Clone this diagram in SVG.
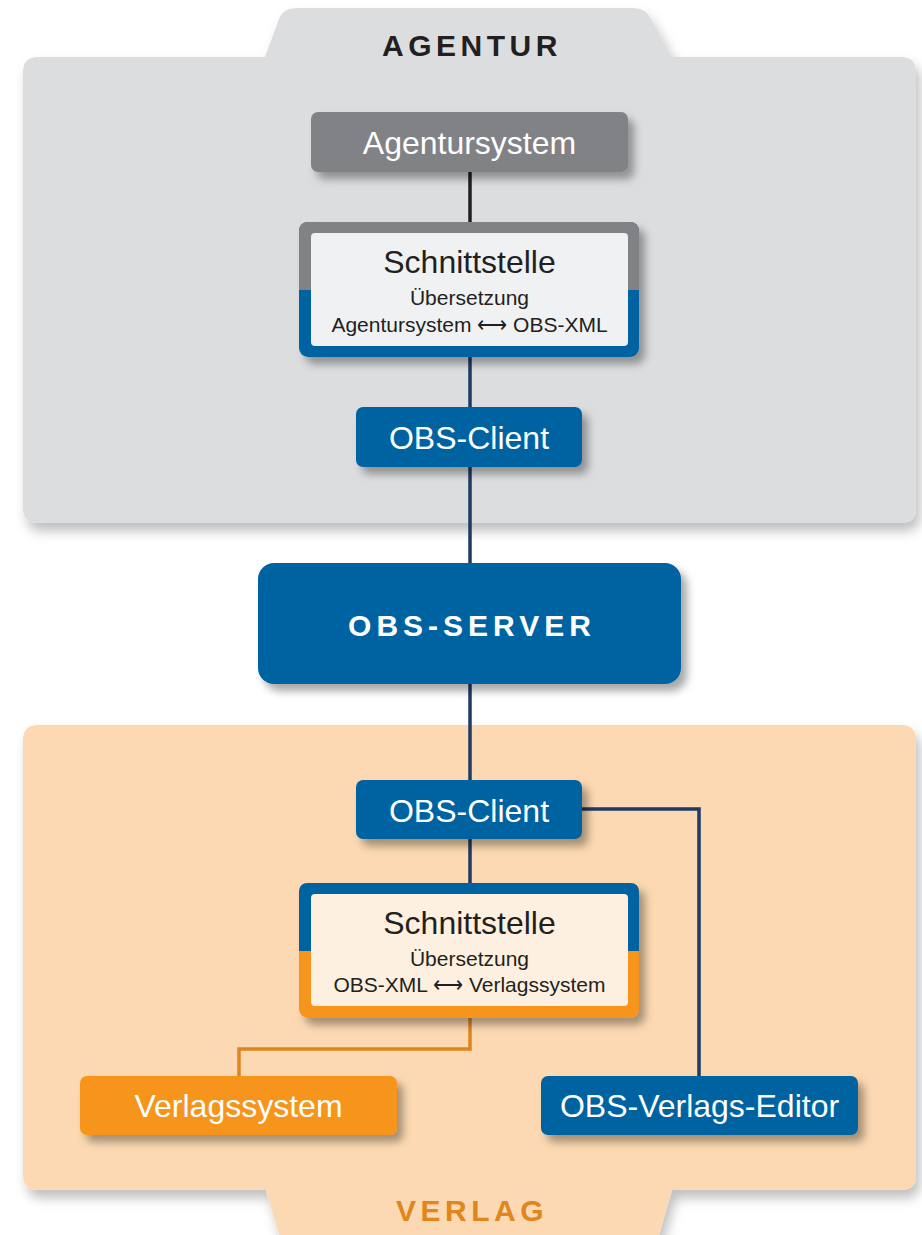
<svg xmlns="http://www.w3.org/2000/svg" width="922" height="1235" viewBox="0 0 922 1235">
<defs>
<filter id="sh" x="-20%" y="-20%" width="150%" height="160%">
<feDropShadow dx="6" dy="7" stdDeviation="4" flood-color="#000" flood-opacity="0.35"/>
</filter>
<filter id="psh" x="-10%" y="-10%" width="120%" height="130%">
<feDropShadow dx="4" dy="8" stdDeviation="6" flood-color="#000" flood-opacity="0.25"/>
</filter>
<style>
.t{font-family:"Liberation Sans",Arial,Helvetica,sans-serif;text-anchor:middle}
.big{font-size:32px;fill:#fff}
.dark{fill:#231f20}
.hd{font-weight:bold;font-size:30px}
.sub{font-size:21px;fill:#231f20}
.blue{fill:#0063a1}
.gray{fill:#808285}
.orange{fill:#f7941d}
.ln{fill:none;stroke-width:3.5}
</style>
</defs>

<g id="agentur-panel">
<path filter="url(#psh)" fill="#dcdddf" d="M38 57 H265 L279 19 Q283 8 297 8 H633 Q646 8 651 19 L672 57 H901 Q916 57 916 72 V508 Q916 523 901 523 H38 Q23 523 23 508 V72 Q23 57 38 57 Z"/>
<text class="t hd dark" x="472" y="56" letter-spacing="4.5">AGENTUR</text>
</g>

<g id="verlag-panel">
<path filter="url(#psh)" fill="#fcd9b2" d="M38 725 H901 Q916 725 916 740 V1175 Q916 1190 901 1190 H672 L656 1245 H282 L266 1190 H38 Q23 1190 23 1175 V740 Q23 725 38 725 Z"/>
<text class="t hd" fill="#e0861d" x="472" y="1221" letter-spacing="4.5">VERLAG</text>
</g>

<g id="connectors">
<line class="ln" stroke="#231f20" x1="470" y1="172" x2="470" y2="222"/>
<line class="ln" stroke="#1d3b63" x1="470" y1="357" x2="470" y2="407"/>
<line class="ln" stroke="#1d3b63" x1="470" y1="467" x2="470" y2="563"/>
<line class="ln" stroke="#1d3b63" x1="470" y1="684" x2="470" y2="780"/>
<line class="ln" stroke="#1d3b63" x1="470" y1="839" x2="470" y2="883"/>
<polyline class="ln" stroke="#1d3b63" points="582,809 699,809 699,1076"/>
<polyline class="ln" stroke="#e0851c" points="470,1018 470,1049 239,1049 239,1076"/>
</g>

<g id="agentursystem">
<rect class="gray" filter="url(#sh)" x="311" y="112" width="317" height="60" rx="7"/>
<text class="t big" x="469.5" y="154">Agentursystem</text>
</g>

<g id="schnittstelle-agentur">
<g filter="url(#sh)">
<rect class="blue" x="299" y="222" width="340" height="135" rx="9"/>
<path class="gray" d="M299 290 V231 Q299 222 308 222 H630 Q639 222 639 231 V290 Z"/>
</g>
<rect fill="#f0f1f3" x="311" y="233" width="317" height="113" rx="4"/>
<text class="t dark" font-size="32" x="469.5" y="273">Schnittstelle</text>
<text class="t sub" x="469.5" y="305">Übersetzung</text>
<text class="t sub" x="469.5" y="332">Agentursystem ⟷ OBS-XML</text>
</g>

<g id="obs-client-agentur">
<rect class="blue" filter="url(#sh)" x="356" y="407" width="226" height="60" rx="7"/>
<text class="t big" x="469" y="449">OBS-Client</text>
</g>

<g id="obs-server">
<rect class="blue" filter="url(#sh)" x="258" y="563" width="423" height="121" rx="16"/>
<text class="t hd" font-size="29" fill="#fff" x="472" y="636" letter-spacing="5">OBS-SERVER</text>
</g>

<g id="obs-client-verlag">
<rect class="blue" filter="url(#sh)" x="356" y="780" width="226" height="59" rx="7"/>
<text class="t big" x="469" y="822">OBS-Client</text>
</g>

<g id="schnittstelle-verlag">
<g filter="url(#sh)">
<rect class="orange" x="299" y="883" width="340" height="135" rx="9"/>
<path class="blue" d="M299 951 V892 Q299 883 308 883 H630 Q639 883 639 892 V951 Z"/>
</g>
<rect fill="#fdf0e1" x="311" y="894" width="317" height="112" rx="4"/>
<text class="t dark" font-size="32" x="469.5" y="934">Schnittstelle</text>
<text class="t sub" x="469.5" y="966">Übersetzung</text>
<text class="t sub" x="469.5" y="992">OBS-XML ⟷ Verlagssystem</text>
</g>

<g id="verlagssystem">
<rect class="orange" filter="url(#sh)" x="80" y="1076" width="317" height="59" rx="7"/>
<text class="t big" x="238.5" y="1117">Verlagssystem</text>
</g>

<g id="obs-verlags-editor">
<rect class="blue" filter="url(#sh)" x="541" y="1076" width="317" height="59" rx="7"/>
<text class="t big" x="699.5" y="1117">OBS-Verlags-Editor</text>
</g>
</svg>
